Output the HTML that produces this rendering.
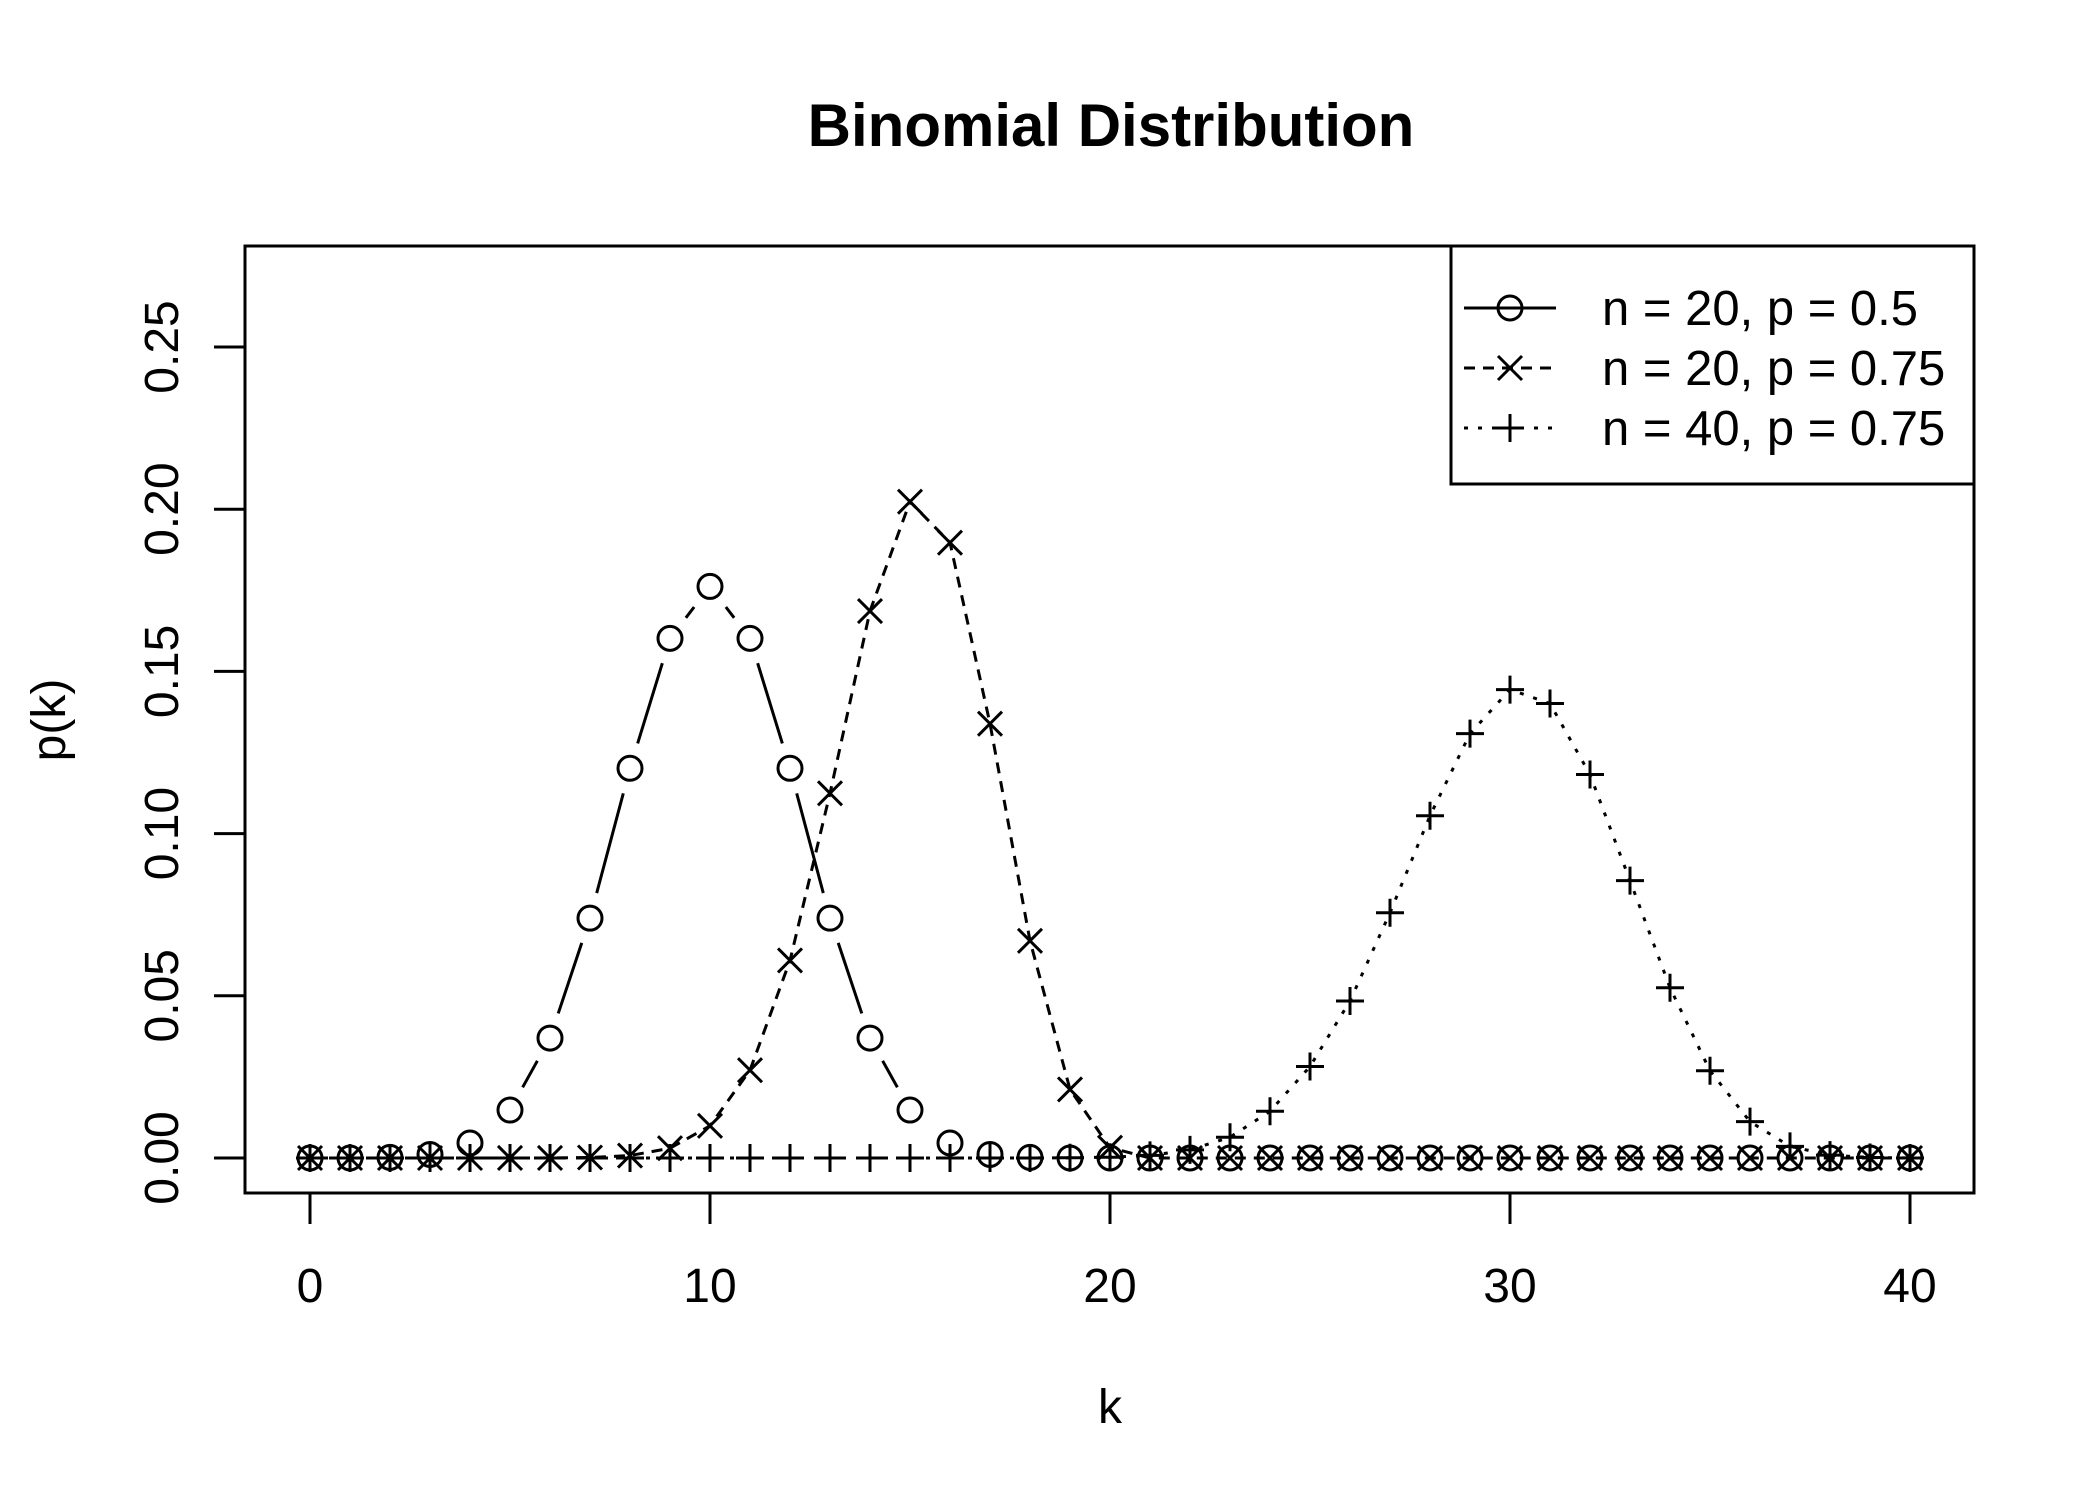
<!DOCTYPE html>
<html><head><meta charset="utf-8"><style>
html,body{margin:0;padding:0;background:#fff;}
svg{display:block;font-family:"Liberation Sans",Arial,sans-serif;}
</style></head><body>
<svg id="chart" width="2100" height="1500" viewBox="0 0 2100 1500" xmlns="http://www.w3.org/2000/svg">
<rect width="2100" height="1500" fill="#fff"/>
<text x="1111" y="146" font-size="60" font-weight="bold" text-anchor="middle">Binomial Distribution</text>
<text x="1110" y="1423" font-size="48" text-anchor="middle">k</text>
<text x="0" y="0" font-size="48" text-anchor="middle" transform="translate(65,720) rotate(-90)">p(k)</text>
<rect x="245" y="246" width="1729" height="947" fill="none" stroke="#000" stroke-width="3"/>
<g id="axes"></g>
<g id="series"></g>
<g id="legend">
<rect x="1451" y="246" width="523" height="238" fill="#fff" stroke="#000" stroke-width="3"/>
</g>
</svg>
<script>
const kValues = [0,1,2,3,4,5,6,7,8,9,10,11,12,13,14,15,16,17,18,19,20,21,22,23,24,25,26,27,28,29,30,31,32,33,34,35,36,37,38,39,40];
const seriesA = [0.000001,0.000019,0.000181,0.001087,0.004621,0.014786,0.036964,0.073929,0.120134,0.160179,0.176197,0.160179,0.120134,0.073929,0.036964,0.014786,0.004621,0.001087,0.000181,0.000019,0.000001,0,0,0,0,0,0,0,0,0,0,0,0,0,0,0,0,0,0,0,0];
const seriesB = [0,0,0,0,0,0.000003,0.000026,0.000154,0.000752,0.003007,0.009922,0.027061,0.060886,0.112406,0.168609,0.202331,0.189685,0.133896,0.066948,0.021141,0.003171,0,0,0,0,0,0,0,0,0,0,0,0,0,0,0,0,0,0,0,0];
const seriesC = [0,0,0,0,0,0,0,0,0,0,0,0,0,0,0,0,0,0,0.00001,0.00006,0.00025,0.0008,0.0025,0.0064,0.0144,0.0282,0.0484,0.0756,0.1055,0.1308,0.1444,0.1401,0.1182,0.0855,0.0525,0.0269,0.0112,0.0036,0.0009,0.00014,0.00001];
const xTicks = [0,10,20,30,40];
const yTicks = [0,0.05,0.10,0.15,0.20,0.25];
const yTickLabels = ["0.00","0.05","0.10","0.15","0.20","0.25"];
const legendLabels = ["n = 20, p = 0.5","n = 20, p = 0.75","n = 40, p = 0.75"];

const NS="http://www.w3.org/2000/svg";
const X = k => 310 + k*40;
const Y = v => 1158 - v*3244;
function mk(tag, attrs, parent){const e=document.createElementNS(NS,tag);for(const a in attrs)e.setAttribute(a,attrs[a]);parent.appendChild(e);return e;}
const axes=document.getElementById('axes');
xTicks.forEach((t,i)=>{
  const l=mk('line',{x1:X(t),x2:X(t),y1:1193,y2:1224,stroke:'#000','stroke-width':3},axes);
  
  
  const tx=mk('text',{x:X(t),y:1302,'font-size':48,'text-anchor':'middle'},axes);
  tx.textContent=String(t);
  
  
});
yTicks.forEach((t,i)=>{
  const l=mk('line',{x1:214,x2:245,y1:Y(t),y2:Y(t),stroke:'#000','stroke-width':3},axes);
  
  
  const tx=mk('text',{x:0,y:0,'font-size':48,'text-anchor':'middle',transform:`translate(178,${Y(t)}) rotate(-90)`},axes);
  tx.textContent=yTickLabels[i];
  
  
});
function marker(type,cx,cy,parent){
  let e;
  if(type==='circle'){e=mk('circle',{cx:cx,cy:cy,r:12,fill:'none',stroke:'#000','stroke-width':3},parent);}
  else if(type==='cross'){e=mk('path',{d:`M${cx-12},${cy-12}L${cx+12},${cy+12}M${cx-12},${cy+12}L${cx+12},${cy-12}`,stroke:'#000','stroke-width':3,fill:'none'},parent);}
  else {e=mk('path',{d:`M${cx-14},${cy}L${cx+14},${cy}M${cx},${cy-14}L${cx},${cy+14}`,stroke:'#000','stroke-width':3,fill:'none'},parent);}
  return e;
}
const sg=document.getElementById('series');
function drawSeries(vals,type,dash,gap,name){
  const g=mk('g',{},sg);
  
  
  let d='';
  for(let i=0;i<kValues.length-1;i++){
    let x1=X(kValues[i]),y1=Y(vals[i]),x2=X(kValues[i+1]),y2=Y(vals[i+1]);
    if(gap>0){const dx=x2-x1,dy=y2-y1,L=Math.hypot(dx,dy);if(L<=2*gap)continue;const ux=dx/L,uy=dy/L;x1+=ux*gap;y1+=uy*gap;x2-=ux*gap;y2-=uy*gap;}
    d+=`M${x1},${y1}L${x2},${y2}`;
  }
  if(gap>0){mk('path',{d:d,stroke:'#000','stroke-width':3,fill:'none','stroke-dasharray':dash},g);}
  else{const pts=kValues.map((k,i)=>X(k)+','+Y(vals[i])).join(' ');mk('polyline',{points:pts,stroke:'#000','stroke-width':3,fill:'none','stroke-dasharray':dash},g);}
  kValues.forEach((k,i)=>{
    const m=marker(type,X(k),Y(vals[i]),g);
    
    
  });
}
drawSeries(seriesA,'circle','none',26,'series-n20-p05');
drawSeries(seriesB,'cross','11 8',0,'series-n20-p075');
drawSeries(seriesC,'plus','4 10',0,'series-n40-p075');
const lg=document.getElementById('legend');
const types=['circle','cross','plus'],dashes=['none','11 8','4 10'];
legendLabels.forEach((lab,i)=>{
  const y=308+i*60;
  const g=mk('g',{},lg);
  
  
  mk('line',{x1:1464,x2:1556,y1:y,y2:y,stroke:'#000','stroke-width':3,'stroke-dasharray':dashes[i]},g);
  marker(types[i],1510,y,g);
  const t=mk('text',{x:1602,y:y+17,'font-size':49},g);
  t.textContent=lab;
});
</script>
</body></html>
